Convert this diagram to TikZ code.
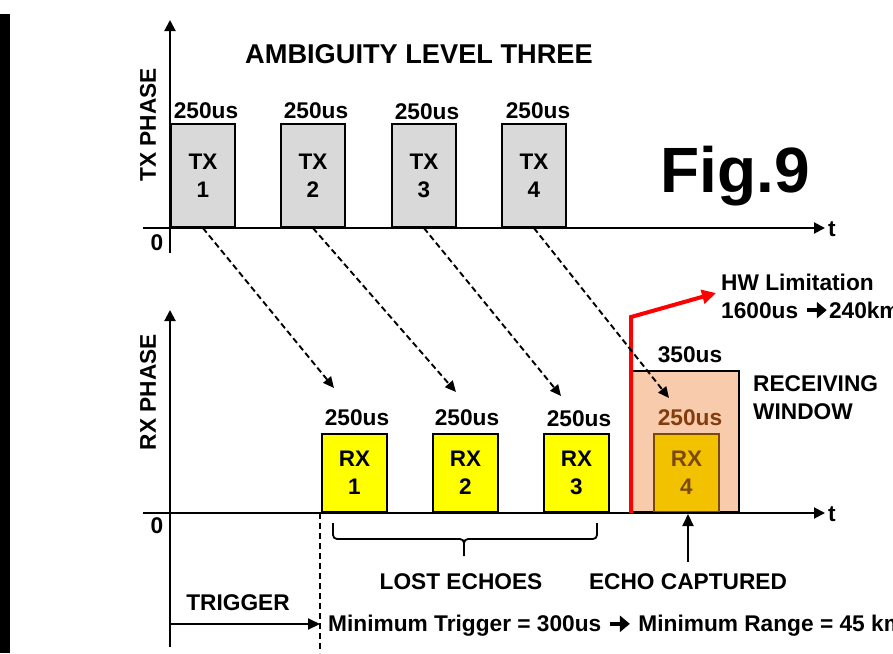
\documentclass[tikz,border=0pt]{standalone}
\usepackage{fontspec}
\setmainfont{Liberation Sans}
\usetikzlibrary{arrows.meta}
\definecolor{txgray}{HTML}{D9D9D9}
\definecolor{rxyellow}{HTML}{FFFF00}
\definecolor{rxgold}{HTML}{F2C200}
\definecolor{rxbrown}{HTML}{7A4A08}
\definecolor{peach}{HTML}{F8CBAD}
\definecolor{peachtext}{HTML}{843C0C}
\newcommand{\heavyarrow}{\tikz[baseline=0pt,x=1pt,y=1pt]{\draw[line width=4.5pt,-{Triangle[length=10pt,width=16pt]}] (0,8) -- (20,8);}}
\begin{document}
\begin{tikzpicture}[x=1pt,y=-1pt,
  lbl/.style={font=\fontsize{22.7}{28}\selectfont\bfseries, inner sep=0pt},
  axisarrow/.style={line width=2pt, -{Triangle[length=11pt,width=11pt]}},
  pulse/.style={draw=black, line width=1.8pt, anchor=south west, inner sep=0pt, align=center, font=\fontsize{22.5}{28}\selectfont\bfseries},
  txbox/.style={pulse, fill=txgray, minimum width=64pt, minimum height=103pt},
  rxbox/.style={pulse, fill=rxyellow, minimum width=65pt, minimum height=78pt},
  echoarrow/.style={line width=1.9pt, dash pattern=on 6pt off 3.5pt, -{Triangle[length=11pt,width=10pt]}},
  solidarrow/.style={line width=2pt, -{Triangle[length=12pt,width=11pt]}},
]
\useasboundingbox (0,0) rectangle (893,653);
\fill[black] (0,14) rectangle (10,653);

% ---------- TX phase ----------
\node[txbox] (tx1) at (170,228) {TX\\1};
\node[txbox] (tx2) at (280,228) {TX\\2};
\node[txbox] (tx3) at (391,228) {TX\\3};
\node[txbox] (tx4) at (501,228) {TX\\4};
\node[lbl] (tl1) at (206,111) {250us};
\node[lbl] (tl2) at (316,111) {250us};
\node[lbl] (tl3) at (427,112) {250us};
\node[lbl] (tl4) at (538,111) {250us};

\coordinate (txtop) at (170,20);
\coordinate (txbot) at (170,253);
\coordinate (txleft) at (143,228);
\coordinate (txend) at (825,228);
\draw[axisarrow] (txbot) -- (txtop);
\draw[axisarrow] (txleft) -- (txend);
\node[lbl, anchor=west] (tt) at (828,229) {t};
\node[lbl] (tz) at (157,243) {0};
\node[lbl, rotate=90] (txph) at (148,125) {TX PHASE};
\node[lbl, font=\fontsize{27.2}{30}\selectfont\bfseries] (title) at (419,54) {AMBIGUITY LEVEL THREE};
\node[inner sep=0pt, anchor=base, font=\fontsize{64}{70}\selectfont\bfseries] (fig) at (735,192) {Fig.9};

% ---------- RX phase ----------
\node[draw=black, line width=1.8pt, fill=peach, anchor=south west, inner sep=0pt, minimum width=107pt, minimum height=141pt] (win) at (631,513) {};
\node[rxbox] (rx1) at (321,513) {RX\\1};
\node[rxbox] (rx2) at (432,513) {RX\\2};
\node[rxbox] (rx3) at (543,513) {RX\\3};
\node[rxbox, fill=rxgold, draw=rxbrown, text=rxbrown] (rx4) at (653,513) {RX\\4};
\node[lbl] (rl1) at (357,418) {250us};
\node[lbl] (rl2) at (467,418) {250us};
\node[lbl] (rl3) at (579,419) {250us};
\node[lbl, text=peachtext] (rl4) at (690,418) {250us};
\node[lbl] (wl) at (690,355) {350us};
\node[lbl, anchor=west, align=left] (recv) at (753,398) {RECEIVING\\WINDOW};

\coordinate (rxtop) at (170,310);
\coordinate (rxbot) at (170,647);
\coordinate (rxleft) at (143,513);
\coordinate (rxend) at (825,513);
\draw[axisarrow] (rxbot) -- (rxtop);
\draw[axisarrow] (rxleft) -- (rxend);
\node[lbl, anchor=west] (rt) at (828,514) {t};
\node[lbl] (rz) at (157,526) {0};
\node[lbl, rotate=90] (rxph) at (148,392) {RX PHASE};

% red HW limitation line
\coordinate (hwbend) at (631,317);
\coordinate (hwtip) at (716,293);
\draw[red, line width=4pt, -{Triangle[length=14pt,width=14pt]}] (win.south west) -- (hwbend) -- (hwtip);
\node[lbl, anchor=west, align=left] (hw) at (721,296) {HW Limitation\\1600us \heavyarrow240km};

% echo arrows
\coordinate (e1) at (334,388);
\coordinate (e2) at (456,392);
\coordinate (e3) at (561,396);
\coordinate (e4) at (669,398);
\draw[echoarrow] (tx1.south) -- (e1);
\draw[echoarrow] (tx2.south) -- (e2);
\draw[echoarrow] (tx3.south) -- (e3);
\draw[echoarrow] (tx4.south) -- (e4);

% brace for lost echoes
\coordinate (bl) at (333,523);
\coordinate (br) at (597,523);
\draw[line width=1.8pt, rounded corners=4pt] (bl) -- (333,539) -- (464,539) -- (464,556);
\draw[line width=1.8pt, rounded corners=4pt] (464,545) -- (464,539) -- (597,539) -- (br);
\node[lbl] (lost) at (461,582) {LOST ECHOES};
\node[lbl] (cap) at (688,582) {ECHO CAPTURED};
\coordinate (capend) at (688,514);
\draw[solidarrow] (688,562) -- (capend);

% trigger
\coordinate (trs) at (170,624);
\coordinate (tre) at (320,624);
\coordinate (dtop) at (320,513);
\coordinate (dbot) at (320,653);
\draw[line width=1.5pt, dash pattern=on 6pt off 4pt] (dtop) -- (dbot);
\draw[solidarrow] (trs) -- (tre);
\node[lbl] (trig) at (238,603) {TRIGGER};
\node[lbl, anchor=west] (minr) at (328,626) {Minimum Trigger = 300us \heavyarrow{} Minimum Range = 45 km};
\end{tikzpicture}
\end{document}
